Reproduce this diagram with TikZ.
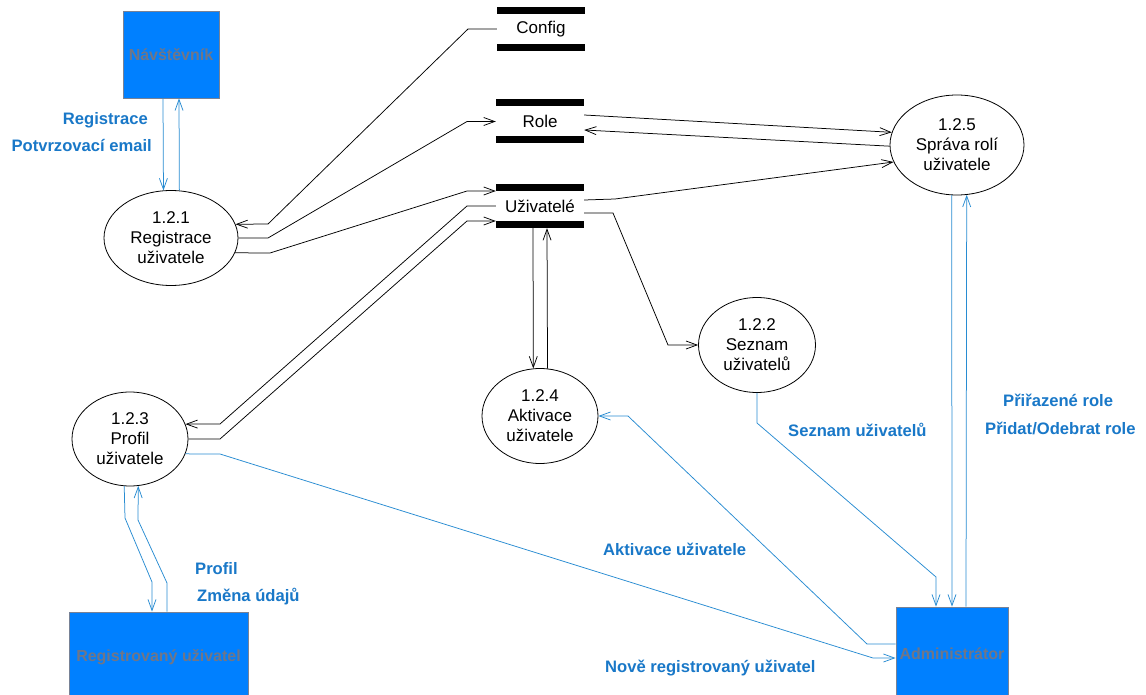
\documentclass[tikz,border=0pt]{standalone}
\usepackage{fontspec}
\setmainfont{Liberation Sans}
\usetikzlibrary{shapes.geometric,arrows.meta,calc}
\definecolor{entityfill}{RGB}{0,128,255}
\definecolor{entityedge}{RGB}{120,130,150}
\definecolor{entitytext}{RGB}{112,118,135}
\definecolor{flowblue}{RGB}{40,140,210}
\definecolor{labelblue}{RGB}{25,120,200}
\begin{document}
\begin{tikzpicture}[x=1pt,y=-1pt,
  proc/.style={ellipse,draw,line width=0.8pt,inner sep=0pt,align=center,
    font=\fontsize{17}{20}\selectfont},
  entity/.style={rectangle,draw=entityedge,fill=entityfill,line width=0.9pt,
    inner sep=0pt,text=entitytext,font=\fontsize{16}{19}\selectfont\bfseries},
  store/.style={rectangle,minimum width=88pt,minimum height=44pt,inner sep=0pt,
    font=\fontsize{17}{20}\selectfont,
    path picture={
      \fill (path picture bounding box.north west) rectangle
            ([yshift=-7pt]path picture bounding box.north east);
      \fill ([yshift=7pt]path picture bounding box.south west) rectangle
            (path picture bounding box.south east);}},
  flow/.style={draw=black,line width=0.75pt,
    -{Straight Barb[length=11pt,width=8pt,line width=0.75pt]}},
  bflow/.style={flow,draw=flowblue},
  lbl/.style={text=labelblue,font=\fontsize{16.6}{19}\selectfont\bfseries,inner sep=0pt}
]
\clip (0,0) rectangle (1146,695);
\fill[white] (0,0) rectangle (1146,695);

% external entities
\node[entity,minimum width=96pt,minimum height=87pt] (nav) at (171,54.5) {Návštěvník};
\node[entity,minimum width=179pt,minimum height=90pt] (reg) at (158.5,657) {Registrovaný uživatel};
\node[entity,minimum width=112pt,minimum height=94pt] (adm) at (952,654) {Administrátor};

% processes
\node[proc,minimum width=134pt,minimum height=95pt] (p1) at (171,238) {1.2.1\\Registrace\\uživatele};
\node[proc,minimum width=117pt,minimum height=95pt] (p2) at (757,345) {1.2.2\\Seznam\\uživatelů};
\node[proc,minimum width=116pt,minimum height=94pt] (p3) at (130,439) {1.2.3\\Profil\\uživatele};
\node[proc,minimum width=116pt,minimum height=95pt] (p4) at (540,416) {1.2.4\\Aktivace\\uživatele};
\node[proc,minimum width=134pt,minimum height=100pt] (p5) at (957,145) {1.2.5\\Správa rolí\\uživatele};

% data stores
\node[store] (cfg) at (541,29) {Config};
\node[store] (role) at (540,121.5) {Role};
\node[store] (usr) at (540,206) {Uživatelé};

% flows between stores and processes
\draw[flow] (cfg.west) -- (468,29) -- (268,224) -- (p1.12.3);
\draw[flow] (p1.east) -- (268,238) -- (467,121.5) -- (role.west);
\draw[flow] (p1.-13.3) -- (270,253) -- (467,191) -- ($(usr.west)+(0,-15)$);
\draw[flow] (usr.west) -- (467,206) -- (220,424) -- (p3.15.3);
\draw[flow] (p3.east) -- (220,439) -- (467,221) -- ($(usr.west)+(0,15)$);
\draw[flow] ($(usr.east)+(0,7)$) -- (613,213) -- (668,345) -- (p2.west);
\draw[flow] ($(usr.east)+(0,-6)$) -- (615,199) -- (p5.195.1);
\draw[flow] ($(role.east)+(0,-6.5)$) -- (p5.169.5);
\draw[flow] (p5.181.8) -- ($(role.east)+(0,8.5)$);
\draw[flow] ($(usr.south)+(-7,0)$) -- (p4.98.5);
\draw[flow] (p4.81.5) -- ($(usr.south)+(7,0)$);

% flows with external entities
\draw[bflow] ($(nav.south)+(-8,0)$) -- (p1.99.7);
\draw[bflow] (p1.80.3) -- ($(nav.south)+(8,0)$);
\draw[bflow] (p3.263.9) -- (125,518) -- (152,582) -- ($(reg.north)+(-6.5,0)$);
\draw[bflow] ($(reg.north)+(8.5,0)$) -- (167,583) -- (138,520) -- (p3.-80.3);
\draw[bflow] (p3.-15.3) -- (220,454) -- (873,658) -- ($(adm.west)+(0,4)$);
\draw[bflow] ($(adm.west)+(0,-10)$) -- (867,644) -- (628,416) -- (p4.east);
\draw[bflow] (p2.south) -- (757,423) -- (936,577) -- ($(adm.north)+(-16,0)$);
\draw[bflow] (p5.264.3) -- (adm.north);
\draw[bflow] ($(adm.north)+(14,0)$) -- (p5.-79.8);

% flow labels
\node[lbl,anchor=east] (l1) at (148,120) {Registrace};
\node[lbl,anchor=east] (l2) at (152,145) {Potvrzovací email};
\node[lbl,anchor=west] (l3) at (195,569) {Profil};
\node[lbl,anchor=west] (l4) at (197,597) {Změna údajů};
\node[lbl,anchor=west] (l5) at (788,430) {Seznam uživatelů};
\node[lbl,anchor=west] (l6) at (603,549) {Aktivace uživatele};
\node[lbl,anchor=west] (l7) at (605,668) {Nově registrovaný uživatel};
\node[lbl,anchor=west] (l8) at (1003,400) {Přiřazené role};
\node[lbl,anchor=west] (l9) at (985,428) {Přidat/Odebrat role};
\end{tikzpicture}
\end{document}
